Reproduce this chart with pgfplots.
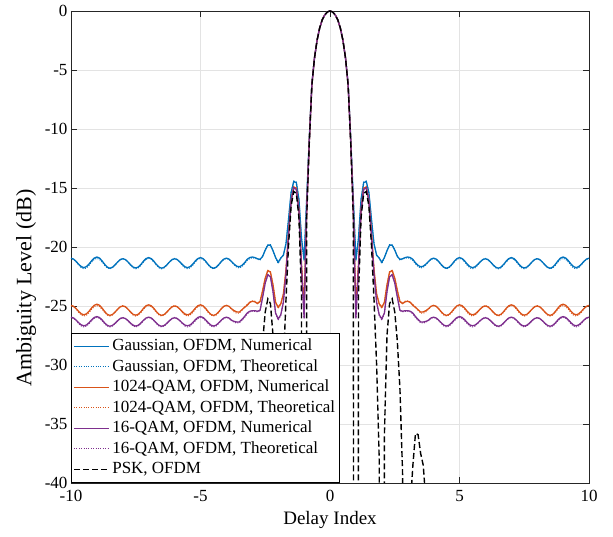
\documentclass[border=0pt]{standalone}
\usepackage{pgfplots}
\pgfplotsset{compat=1.18}
\usepackage{pgfplotstable}
\usepackage{fontspec}
\setmainfont{Liberation Serif}

\definecolor{mblue}{rgb}{0,0.447,0.741}
\definecolor{morange}{rgb}{0.85,0.325,0.098}
\definecolor{mpurple}{rgb}{0.494,0.184,0.556}
\definecolor{gridgray}{HTML}{E3E3E3}
\definecolor{axgray}{HTML}{262626}

% delay index >= 0, mirrored for negative delays
% gn/gt: Gaussian num/theo, on/ot: 1024-QAM, pn/pt: 16-QAM, k: PSK
\pgfplotstableread{
x gn gt on ot pn pt k
0.0 0 0 0 0 0 0 0
0.1 -0.08 -0.08 -0.08 -0.08 -0.08 -0.08 -0.08
0.2 -0.33 -0.33 -0.33 -0.33 -0.33 -0.33 -0.33
0.3 -0.75 -0.75 -0.75 -0.75 -0.75 -0.75 -0.75
0.4 -1.45 -1.45 -1.45 -1.45 -1.45 -1.45 -1.45
0.5 -2.5 -2.5 -2.5 -2.5 -2.5 -2.5 -2.5
0.6 -4.0 -4.0 -4.0 -4.0 -4.0 -4.0 -4.0
0.7 -6.17 -6.17 -6.25 -6.25 -6.26 -6.26 -6.3
0.8 -10.79 -10.79 -11.03 -11.03 -11.07 -11.07 -11.2
0.9 -15.91 -15.91 -16.79 -16.79 -16.93 -16.93 -17.5
1.0 -21.1 -21.2 -25.2 -25.3 -26.0 -26.1 -300
1.1 -19.26 -19.3 -21.47 -21.5 -21.88 -21.9 -24
1.2 -15.97 -15.97 -16.83 -16.83 -16.95 -16.95 -17.5
1.3 -14.55 -14.5 -15.04 -15.0 -15.12 -15.1 -15.45
1.4 -14.45 -14.42 -14.92 -14.9 -14.99 -14.97 -15.3
1.5 -15.38 -15.36 -16.02 -16.0 -16.10 -16.08 -16.5
1.6 -17.64 -17.6 -18.81 -18.78 -18.98 -18.95 -19.8
1.7 -19.74 -19.7 -21.96 -21.9 -22.35 -22.3 -24.5
1.8 -20.70 -20.68 -23.99 -23.95 -24.69 -24.65 -30
1.9 -20.94 -20.95 -24.82 -24.85 -25.75 -25.78 -38
2.0 -21.3 -21.4 -25.1 -25.2 -26.1 -26.2 -300
2.1 -20.90 -20.92 -24.70 -24.72 -25.6 -25.62 -36
2.2 -20.32 -20.3 -23.22 -23.2 -23.80 -23.78 -27.5
2.3 -19.84 -19.8 -22.13 -22.1 -22.53 -22.5 -24.8
2.4 -19.85 -19.82 -22.0 -21.98 -22.36 -22.34 -24.4
2.5 -20.26 -20.22 -22.64 -22.6 -23.05 -23.02 -25.5
2.6 -20.80 -20.75 -23.70 -23.65 -24.25 -24.2 -28
2.7 -21.05 -21.1 -24.63 -24.6 -25.37 -25.4 -32
2.8 -21.0 -21.05 -24.8 -24.72 -25.45 -25.5 -39
2.9 -20.9 -20.95 -24.65 -24.6 -25.4 -25.45 -60
3.0 -20.85 -20.92 -24.6 -24.58 -25.4 -25.45 -300
3.1 -20.9 -20.98 -24.7 -24.66 -25.45 -25.5 -42
3.2 -21.05 -21.15 -24.95 -24.88 -25.6 -25.68 -38.5
3.3 -21.35 -21.42 -25.12 -25.1 -25.9 -25.98 -35.8
3.4 -21.56 -21.66 -25.32 -25.36 -26.14 -26.22 -35.9
3.5 -21.68 -21.78 -25.52 -25.6 -26.35 -26.42 -37.5
3.6 -21.63 -21.72 -25.50 -25.62 -26.36 -26.45 -38.5
3.7 -21.46 -21.52 -25.40 -25.5 -26.31 -26.38 -41.5
3.8 -21.24 -21.27 -25.24 -25.27 -26.21 -26.25 -50
3.9 -21.03 -21.06 -25.03 -25.05 -26.02 -26.05 -60
4.0 -20.95 -20.97 -24.95 -24.97 -25.95 -25.97 -300
4.1 -21.03 -21.05 -25.03 -25.05 -26.02 -26.05 -60
4.2 -21.24 -21.27 -25.24 -25.27 -26.21 -26.25 -60
4.3 -21.51 -21.55 -25.51 -25.55 -26.44 -26.5 -60
4.4 -21.72 -21.77 -25.72 -25.77 -26.63 -26.7 -60
4.5 -21.8 -21.85 -25.8 -25.85 -26.7 -26.78 -60
4.6 -21.71 -21.77 -25.71 -25.77 -26.62 -26.7 -60
4.7 -21.49 -21.55 -25.49 -25.55 -26.42 -26.5 -60
4.8 -21.21 -21.27 -25.21 -25.27 -26.18 -26.25 -60
4.9 -20.99 -21.05 -24.99 -25.05 -25.98 -26.05 -60
5.0 -20.9 -20.97 -24.9 -24.97 -25.9 -25.97 -300
5.1 -20.98 -21.05 -24.98 -25.05 -25.97 -26.05 -60
5.2 -21.19 -21.27 -25.19 -25.27 -26.17 -26.25 -60
5.3 -21.46 -21.55 -25.46 -25.55 -26.41 -26.5 -60
5.4 -21.67 -21.77 -25.67 -25.77 -26.61 -26.7 -60
5.5 -21.75 -21.85 -25.75 -25.85 -26.68 -26.78 -60
5.6 -21.68 -21.77 -25.68 -25.77 -26.62 -26.7 -60
5.7 -21.49 -21.55 -25.49 -25.55 -26.45 -26.5 -60
5.8 -21.26 -21.27 -25.26 -25.27 -26.24 -26.25 -60
5.9 -21.07 -21.05 -25.07 -25.05 -26.07 -26.05 -60
6.0 -21.0 -20.97 -25.0 -24.97 -26.0 -25.97 -300
6.1 -21.08 -21.05 -25.08 -25.05 -26.07 -26.05 -60
6.2 -21.28 -21.27 -25.28 -25.27 -26.25 -26.25 -60
6.3 -21.52 -21.55 -25.52 -25.55 -26.47 -26.5 -60
6.4 -21.72 -21.77 -25.72 -25.77 -26.65 -26.7 -60
6.5 -21.8 -21.85 -25.8 -25.85 -26.72 -26.78 -60
6.6 -21.71 -21.77 -25.71 -25.77 -26.65 -26.7 -60
6.7 -21.49 -21.55 -25.49 -25.55 -26.45 -26.5 -60
6.8 -21.21 -21.27 -25.21 -25.27 -26.22 -26.25 -60
6.9 -20.99 -21.05 -24.99 -25.05 -26.02 -26.05 -60
7.0 -20.9 -20.97 -24.9 -24.97 -25.95 -25.97 -300
7.1 -20.98 -21.05 -24.98 -25.05 -26.02 -26.05 -60
7.2 -21.2 -21.27 -25.2 -25.27 -26.21 -26.25 -60
7.3 -21.48 -21.55 -25.48 -25.55 -26.44 -26.5 -60
7.4 -21.7 -21.77 -25.7 -25.77 -26.63 -26.7 -60
7.5 -21.78 -21.85 -25.78 -25.85 -26.7 -26.78 -60
7.6 -21.71 -21.77 -25.71 -25.77 -26.63 -26.7 -60
7.7 -21.51 -21.55 -25.51 -25.55 -26.46 -26.5 -60
7.8 -21.27 -21.27 -25.27 -25.27 -26.24 -26.25 -60
7.9 -21.07 -21.05 -25.07 -25.05 -26.07 -26.05 -60
8.0 -21.0 -20.97 -25.0 -24.97 -26.0 -25.97 -300
8.1 -21.08 -21.05 -25.08 -25.05 -26.07 -26.05 -60
8.2 -21.28 -21.27 -25.28 -25.27 -26.25 -26.25 -60
8.3 -21.52 -21.55 -25.52 -25.55 -26.47 -26.5 -60
8.4 -21.72 -21.77 -25.72 -25.77 -26.65 -26.7 -60
8.5 -21.8 -21.85 -25.8 -25.85 -26.72 -26.78 -60
8.6 -21.71 -21.77 -25.71 -25.77 -26.64 -26.7 -60
8.7 -21.47 -21.55 -25.47 -25.55 -26.44 -26.5 -60
8.8 -21.18 -21.27 -25.18 -25.27 -26.18 -26.25 -60
8.9 -20.94 -21.05 -24.94 -25.05 -25.98 -26.05 -60
9.0 -20.85 -20.97 -24.85 -24.97 -25.9 -25.97 -300
9.1 -20.94 -21.05 -24.94 -25.05 -25.97 -26.05 -60
9.2 -21.16 -21.27 -25.16 -25.27 -26.17 -26.25 -60
9.3 -21.44 -21.55 -25.44 -25.55 -26.41 -26.5 -60
9.4 -21.66 -21.77 -25.66 -25.77 -26.61 -26.7 -60
9.5 -21.75 -21.85 -25.75 -25.85 -26.68 -26.78 -60
9.6 -21.67 -21.77 -25.67 -25.77 -26.61 -26.7 -60
9.7 -21.47 -21.55 -25.47 -25.55 -26.43 -26.5 -60
9.8 -21.23 -21.27 -25.23 -25.27 -26.2 -26.25 -60
9.9 -21.03 -21.05 -25.03 -25.05 -26.02 -26.05 -60
10.0 -20.95 -20.97 -24.95 -24.97 -25.95 -25.97 -300
}\amb

\pgfplotsset{
  num/.style={line width=1.3pt},
  theo/.style={line width=1pt, dash pattern=on 1pt off 1.4pt},
}

\begin{document}
\begin{tikzpicture}
\begin{axis}[
    scale only axis,
    width=518pt, height=472pt,
    xmin=-10, xmax=10, ymin=-40, ymax=0,
    xtick={-10,-5,...,10}, ytick={-40,-35,...,0},
    grid=major,
    major grid style={gridgray, line width=0.8pt},
    axis line style={axgray, line width=0.9pt},
    tick style={axgray, line width=0.9pt},
    tick align=inside, major tick length=6pt,
    ticklabel style={font=\fontsize{17}{20}\selectfont, text=black},
    xticklabel style={yshift=-4pt},
    /pgf/number format/assume math mode=true,
    xlabel={Delay Index}, ylabel={Ambiguity Level (dB)},
    every axis x label/.style={at={(rel axis cs:0.5,0)}, anchor=center, yshift=-37pt, font=\fontsize{19}{22}\selectfont},
    every axis y label/.style={at={(rel axis cs:0,0.5)}, anchor=center, rotate=90, yshift=45pt, xshift=-41pt, font=\fontsize{22}{26}\selectfont},
    legend style={at={(0,0)}, anchor=south west, draw=black, line width=0.8pt, fill=white,
      font=\fontsize{17}{20}\selectfont, inner xsep=2pt, inner ysep=3pt,
      nodes={inner sep=2.5pt, text height=12pt, text depth=3.5pt}},
    legend cell align=left,
    legend image code/.code={\draw[#1] (0pt,0pt) -- (35pt,0pt);},
]
\addplot[mblue, num] table[x=x, y=gn]{\amb};
\addlegendentry{Gaussian, OFDM, Numerical}
\addplot[mblue, num, forget plot] table[x expr=-\thisrow{x}, y=gn]{\amb};
\addplot[mblue, theo] table[x=x, y=gt]{\amb};
\addlegendentry{Gaussian, OFDM, Theoretical}
\addplot[mblue, theo, forget plot] table[x expr=-\thisrow{x}, y=gt]{\amb};
\addplot[morange, num] table[x=x, y=on]{\amb};
\addlegendentry{1024-QAM, OFDM, Numerical}
\addplot[morange, num, forget plot] table[x expr=-\thisrow{x}, y=on]{\amb};
\addplot[morange, theo] table[x=x, y=ot]{\amb};
\addlegendentry{1024-QAM, OFDM, Theoretical}
\addplot[morange, theo, forget plot] table[x expr=-\thisrow{x}, y=ot]{\amb};
\addplot[mpurple, num] table[x=x, y=pn]{\amb};
\addlegendentry{16-QAM, OFDM, Numerical}
\addplot[mpurple, num, forget plot] table[x expr=-\thisrow{x}, y=pn]{\amb};
\addplot[mpurple, theo] table[x=x, y=pt]{\amb};
\addlegendentry{16-QAM, OFDM, Theoretical}
\addplot[mpurple, theo, forget plot] table[x expr=-\thisrow{x}, y=pt]{\amb};
\addplot[black, line width=1.4pt, dash pattern=on 6pt off 3pt] table[x=x, y=k]{\amb};
\addlegendentry{PSK, OFDM}
\addplot[black, line width=1.4pt, dash pattern=on 6pt off 3pt, forget plot] table[x expr=-\thisrow{x}, y=k]{\amb};
\end{axis}
\path (current axis.south west) ++(-71pt,-53pt);
\path (current axis.north east) ++(24pt,11pt);
\end{tikzpicture}
\end{document}
